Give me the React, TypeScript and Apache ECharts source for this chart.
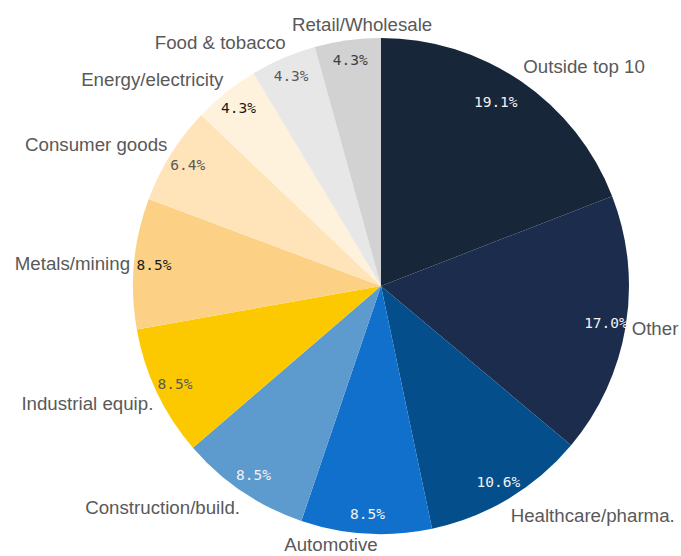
import React, { useEffect, useRef } from "react";
import * as echarts from "echarts";

const categories = [
  "Outside top 10",
  "Other",
  "Healthcare/pharma.",
  "Automotive",
  "Construction/build.",
  "Industrial equip.",
  "Metals/mining",
  "Consumer goods",
  "Energy/electricity",
  "Food & tobacco",
  "Retail/Wholesale",
];
const shares = [19.1, 17.0, 10.6, 8.5, 8.5, 8.5, 8.5, 6.4, 4.3, 4.3, 4.3];
const sliceColors = [
  "#172639",
  "#1b2c4d",
  "#044e8c",
  "#1170cb",
  "#5d9bcf",
  "#fcc900",
  "#fdd185",
  "#fee4b8",
  "#fff2dc",
  "#e7e7e7",
  "#d2d2d2",
];
const pctLabelColors = [
  "#f2f2f2",
  "#f2f2f2",
  "#f2f2f2",
  "#f2f2f2",
  "#f2f2f2",
  "#595959",
  "#1a1a1a",
  "#595959",
  "#1a1a1a",
  "#595959",
  "#404040",
];
// small horizontal / vertical nudges of the category labels (px)
const nameNudgeX = [0, 2, 0, -35, 0, 0, 0, 0, 0, 4, 15];
const nameNudgeY = [-2, 2, 4, -3, 3, 0, 0, 2, 0, -2, -2];

const W = 681;
const H = 556;
const CX = 381;
const CY = 286;
const R = 248;

export default function App() {
  const ref = useRef<HTMLDivElement>(null);
  useEffect(() => {
    const chart = echarts.init(ref.current!, null, { renderer: "svg" });
    const total = shares.reduce((a, b) => a + b, 0);
    const mids: number[] = [];
    let acc = 0;
    shares.forEach((v) => {
      mids.push(((acc + v / 2) / total) * 2 * Math.PI);
      acc += v;
    });
    const mainData = categories.map((name, i) => ({
      name,
      value: shares[i],
      itemStyle: { color: sliceColors[i] },
    }));
    const ringData = categories.map((name, i) => ({
      name,
      value: shares[i],
      itemStyle: { color: "rgba(0,0,0,0)" },
      label: { color: pctLabelColors[i] },
    }));
    chart.setOption({
      animation: false,
      series: [
        {
          type: "pie",
          center: [CX, CY],
          radius: [0, R],
          startAngle: 90,
          clockwise: true,
          avoidLabelOverlap: false,
          silent: true,
          data: mainData,
          itemStyle: { borderWidth: 0 },
          label: {
            show: true,
            position: "outside",
            formatter: "{b}",
            color: "#595959",
            fontFamily: "'Liberation Sans', Arial, sans-serif",
            fontSize: 18.7,
          },
          labelLine: { show: false },
          labelLayout: (p: any) => {
            const i = p.dataIndex;
            const a = mids[i];
            const s = Math.sin(a);
            const c = Math.cos(a);
            const x = CX + (R + 4) * s + nameNudgeX[i];
            const y = CY - (R + 4) * c + nameNudgeY[i];
            return {
              x,
              y,
              align: s > 0.3 ? "left" : s < -0.3 ? "right" : "center",
              verticalAlign: c > 0.3 ? "bottom" : c < -0.3 ? "top" : "middle",
            };
          },
        },
        {
          type: "pie",
          center: [CX, CY],
          radius: [R - 46, R],
          startAngle: 90,
          clockwise: true,
          avoidLabelOverlap: false,
          silent: true,
          data: ringData,
          itemStyle: { borderWidth: 0 },
          label: {
            show: true,
            position: "inside",
            formatter: (p: any) => p.value.toFixed(1) + "%",
            fontFamily: "'DejaVu Sans Mono', monospace",
            fontSize: 14.5,
          },
          labelLine: { show: false },
          labelLayout: (p: any) => (p.dataIndex === 0 ? { dx: -14, dy: 4 } : {}),
        },
      ],
    });
    return () => chart.dispose();
  }, []);
  return (
    <div
      ref={ref}
      style={{ position: "fixed", left: 0, top: 0, width: W, height: H, background: "#fff" }}
    />
  );
}
